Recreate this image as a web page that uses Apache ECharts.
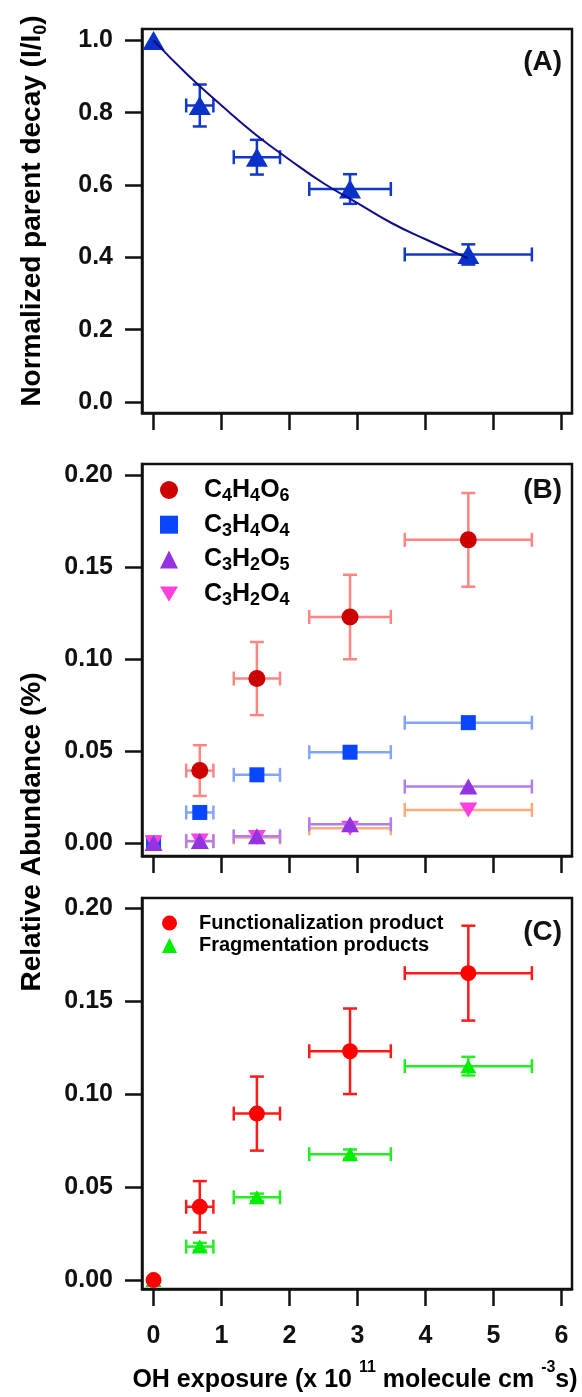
<!DOCTYPE html>
<html>
<head>
<meta charset="utf-8">
<script src="https://cdn.jsdelivr.net/npm/echarts@6/dist/echarts.min.js"></script>
<style>
  html, body { margin: 0; padding: 0; background: #fff; }
  #chart { width: 582px; height: 1397px; }
</style>
</head>
<body>
<div id="chart"></div>
<script>
// OH exposure (x 10^11 molecule cm^-3 s) and its uncertainty
const exposure = [0, 0.68, 1.52, 2.89, 4.63];
const exposureErr = [0, 0.2, 0.34, 0.6, 0.935];

// (A) normalized parent decay
const decay = [1.0, 0.82, 0.677, 0.589, 0.408];
const decayErr = [0, 0.058, 0.048, 0.041, 0.028];
// fitted curve
const fitX = [0, 0.5, 1, 1.5, 2, 2.5, 3, 3.5, 4, 4.62];
const fitY = [1.0, 0.905, 0.82, 0.74, 0.67, 0.605, 0.55, 0.495, 0.45, 0.398];

// (B) individual products
const c4h4o6 = [0, 0.0394, 0.0895, 0.123, 0.165];
const c4h4o6Err = [0, 0.0138, 0.0199, 0.023, 0.0255];
const c3h4o4 = [0, 0.0166, 0.0371, 0.0494, 0.0655];
const c3h2o5 = [0, 0.001, 0.0036, 0.0102, 0.0307];
const c3h2o4 = [0, 0.001, 0.003, 0.008, 0.018];

// (C) grouped products
const functionalization = [0, 0.0394, 0.0895, 0.123, 0.165];
const functionalizationErr = [0, 0.0138, 0.0199, 0.023, 0.0255];
const fragmentation = [0, 0.018, 0.0445, 0.0677, 0.115];
const fragmentationErr = [0, 0.002, 0.002, 0.0025, 0.005];

const xTicks = [0, 1, 2, 3, 4, 5, 6];
const decayTicks = [0, 0.2, 0.4, 0.6, 0.8, 1.0];
const abundTicks = [0, 0.05, 0.1, 0.15, 0.2];

const INK = '#111';
const FONT = '"Liberation Sans", Arial, sans-serif';

// [x, y, xErr, yErr]
function points(ys, yErr, from) {
  const out = [];
  exposure.forEach((x, i) => {
    if (i < (from || 0)) return;
    out.push([x, ys[i], exposureErr[i], yErr ? yErr[i] : 0]);
  });
  return out;
}

function errorBars(name, idx, data, color, z) {
  return {
    type: 'custom',
    name: name + '-err',
    xAxisIndex: idx,
    yAxisIndex: idx,
    z: z,
    silent: true,
    data: data,
    renderItem: (params, api) => {
      const x = api.value(0), y = api.value(1), xe = api.value(2), ye = api.value(3);
      const style = { stroke: color, lineWidth: 2.5 };
      const cap = 7;
      const kids = [];
      const seg = (x1, y1, x2, y2) => kids.push({ type: 'line', shape: { x1, y1, x2, y2 }, style });
      if (xe > 0) {
        const a = api.coord([x - xe, y]);
        const b = api.coord([x + xe, y]);
        seg(a[0], a[1], b[0], b[1]);
        seg(a[0], a[1] - cap, a[0], a[1] + cap);
        seg(b[0], b[1] - cap, b[0], b[1] + cap);
      }
      if (ye > 0) {
        const a = api.coord([x, y - ye]);
        const b = api.coord([x, y + ye]);
        seg(a[0], a[1], b[0], b[1]);
        seg(a[0] - cap, a[1], a[0] + cap, a[1]);
        seg(b[0] - cap, b[1], b[0] + cap, b[1]);
      }
      return { type: 'group', children: kids };
    },
  };
}

function marks(name, idx, data, color, symbol, size, z) {
  return {
    type: 'scatter',
    name: name,
    xAxisIndex: idx,
    yAxisIndex: idx,
    z: z,
    symbol: symbol,
    symbolSize: size,
    itemStyle: { color: color, opacity: 1 },
    data: data.map((d) => [d[0], d[1]]),
  };
}

function xAxis(idx, showLabels) {
  return {
    type: 'value', gridIndex: idx, min: -0.17, max: 6.155,
    axisLine: { show: true, onZero: false, lineStyle: { color: INK, width: 2.5 } },
    axisTick: { show: true, inside: false, length: 17, customValues: xTicks, lineStyle: { color: INK, width: 2.5 } },
    axisLabel: {
      show: showLabels, customValues: xTicks, margin: 35,
      fontSize: 25, fontWeight: 'bold', color: INK, fontFamily: FONT,
    },
    splitLine: { show: false },
  };
}

function yAxis(idx, min, max, ticks, digits) {
  return {
    type: 'value', gridIndex: idx, min: min, max: max,
    axisLine: { show: true, onZero: false, lineStyle: { color: INK, width: 2.5 } },
    axisTick: { show: true, inside: false, length: 17, customValues: ticks, lineStyle: { color: INK, width: 2.5 } },
    axisLabel: {
      customValues: ticks, margin: 29, formatter: (v) => v.toFixed(digits),
      fontSize: 25, fontWeight: 'bold', color: INK, fontFamily: FONT,
    },
    splitLine: { show: false },
  };
}

const gridBase = { left: 142, width: 430, show: true, borderColor: INK, borderWidth: 2.5 };

const formula = {
  C4H4O6: '{g|}{m|C}{s|4}{m|H}{s|4}{m|O}{s|6}',
  C3H4O4: '{g|}{m|C}{s|3}{m|H}{s|4}{m|O}{s|4}',
  C3H2O5: '{g|}{m|C}{s|3}{m|H}{s|2}{m|O}{s|5}',
  C3H2O4: '{g|}{m|C}{s|3}{m|H}{s|2}{m|O}{s|4}',
};

const titleRich = {
  m: { fontSize: 28, fontWeight: 'bold', fontFamily: FONT, lineHeight: 36, verticalAlign: 'middle', color: INK },
  s: { fontSize: 18, fontWeight: 'bold', fontFamily: FONT, lineHeight: 18, verticalAlign: 'bottom', color: INK },
};
const xTitleRich = {
  m: { fontSize: 25, fontWeight: 'bold', fontFamily: FONT, lineHeight: 40, verticalAlign: 'middle', color: INK },
  p: { fontSize: 16, fontWeight: 'bold', fontFamily: FONT, lineHeight: 16, verticalAlign: 'top', color: INK },
};
const panelLabel = (text, y) => ({
  type: 'text', x: 562, y: y,
  style: { text: text, align: 'right', verticalAlign: 'middle', fill: INK, font: 'bold 28px ' + FONT },
});

const option = {
  animation: false,
  backgroundColor: '#fff',
  grid: [
    Object.assign({ top: 29, height: 384 }, gridBase),
    Object.assign({ top: 464, height: 392 }, gridBase),
    Object.assign({ top: 898, height: 391 }, gridBase),
  ],
  xAxis: [xAxis(0, false), xAxis(1, false), xAxis(2, true)],
  yAxis: [
    yAxis(0, -0.0304, 1.0315, decayTicks, 1),
    yAxis(1, -0.0071, 0.2063, abundTicks, 2),
    yAxis(2, -0.0048, 0.2054, abundTicks, 2),
  ],
  legend: [
    {
      orient: 'vertical', left: 160, top: 475, padding: 0, itemGap: 4.7,
      itemWidth: 18, itemHeight: 18, selectedMode: false,
      data: [
        { name: 'C4H4O6', icon: 'circle' },
        { name: 'C3H4O4', icon: 'rect' },
        { name: 'C3H2O5', icon: 'triangle' },
        { name: 'C3H2O4', icon: 'path://M0,0L20,0L10,17Z' },
      ],
      formatter: (n) => formula[n],
      textStyle: {
        lineHeight: 30,
        rich: {
          g: { width: 21 },
          m: { fontSize: 25, fontWeight: 'bold', fontFamily: FONT, lineHeight: 30, verticalAlign: 'middle', color: '#000' },
          s: { fontSize: 18, fontWeight: 'bold', fontFamily: FONT, lineHeight: 17, verticalAlign: 'bottom', color: '#000' },
        },
      },
    },
    {
      orient: 'vertical', left: 162, top: 912, padding: 0, itemGap: 0.5,
      itemWidth: 15, itemHeight: 15, selectedMode: false,
      data: [
        { name: 'Functionalization product', icon: 'circle' },
        { name: 'Fragmentation products', icon: 'triangle' },
      ],
      formatter: (n) => '{g|}{m|' + n + '}',
      textStyle: {
        lineHeight: 22,
        rich: {
          g: { width: 17 },
          m: { fontSize: 20, fontWeight: 'bold', fontFamily: FONT, lineHeight: 22, color: '#000' },
        },
      },
    },
  ],
  graphic: [
    {
      type: 'text', x: 32, y: 211, rotation: Math.PI / 2,
      style: { text: '{m|Normalized parent decay (I/I}{s|0}{m|)}', rich: titleRich, align: 'center', verticalAlign: 'middle' },
    },
    {
      type: 'text', x: 32, y: 832, rotation: Math.PI / 2,
      style: { text: '{m|Relative Abundance (%)}', rich: titleRich, align: 'center', verticalAlign: 'middle' },
    },
    {
      type: 'text', x: 355, y: 1380,
      style: {
        text: '{m|OH exposure (x 10 }{p|11}{m| molecule cm }{p|-3}{m|s)}',
        rich: xTitleRich, align: 'center', verticalAlign: 'middle',
      },
    },
    panelLabel('(A)', 62),
    panelLabel('(B)', 490),
    panelLabel('(C)', 932),
  ],
  series: [
    // (A)
    errorBars('decay', 0, points(decay, decayErr), '#1238c8', 2),
    marks('decay', 0, points(decay, decayErr), '#0a32c8', 'triangle', [22, 19], 3),
    {
      type: 'line', name: 'fit', xAxisIndex: 0, yAxisIndex: 0, z: 4,
      data: fitX.map((x, i) => [x, fitY[i]]),
      smooth: true, showSymbol: false, symbol: 'none',
      lineStyle: { color: '#0d0d8a', width: 2 },
    },
    // (B)
    errorBars('C4H4O6', 1, points(c4h4o6, c4h4o6Err, 1), '#ff8585', 2),
    marks('C4H4O6', 1, points(c4h4o6, c4h4o6Err, 1), '#cc0000', 'circle', 17, 3),
    errorBars('C3H4O4', 1, points(c3h4o4), '#82a4ff', 4),
    marks('C3H4O4', 1, points(c3h4o4), '#0846ff', 'rect', 15, 5),
    errorBars('C3H2O4', 1, points(c3h2o4), '#ffab78', 6),
    marks('C3H2O4', 1, points(c3h2o4), '#ff40e0', 'path://M0,0L20,0L10,17Z', [18, 15], 7),
    errorBars('C3H2O5', 1, points(c3h2o5), '#b07ef0', 8),
    marks('C3H2O5', 1, points(c3h2o5), '#9433e0', 'triangle', [18, 16], 9),
    // (C)
    errorBars('Fragmentation products', 2, points(fragmentation, fragmentationErr), '#22ee22', 2),
    marks('Fragmentation products', 2, points(fragmentation, fragmentationErr), '#00ee00', 'triangle', [16, 14], 3),
    errorBars('Functionalization product', 2, points(functionalization, functionalizationErr), '#ff1a1a', 4),
    marks('Functionalization product', 2, points(functionalization, functionalizationErr), '#ff0000', 'circle', 16, 5),
  ],
};

const chart = echarts.init(document.getElementById('chart'), null, { renderer: 'canvas' });
chart.setOption(option);
</script>
</body>
</html>
